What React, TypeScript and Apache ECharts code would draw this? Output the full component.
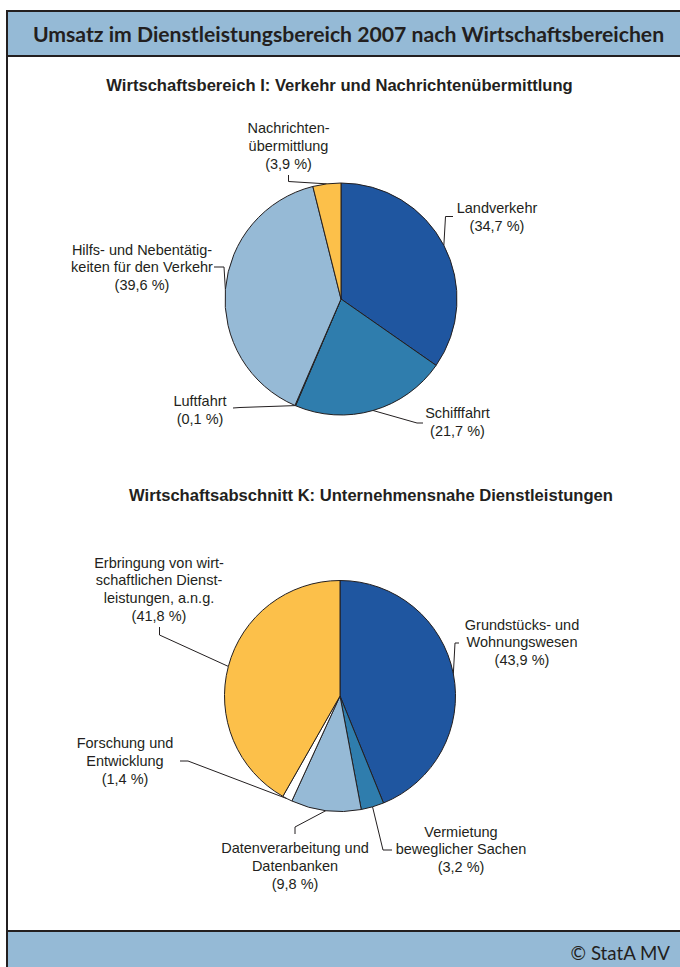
import React, { useEffect, useRef } from "react";
import * as echarts from "echarts";

const titleText = "Umsatz im Dienstleistungsbereich 2007 nach Wirtschaftsbereichen";
const subtitle1 = "Wirtschaftsbereich I: Verkehr und Nachrichtenübermittlung";
const subtitle2 = "Wirtschaftsabschnitt K: Unternehmensnahe Dienstleistungen";
const sourceText = "© StatA MV";

const categories1 = [
  "Landverkehr",
  "Schifffahrt",
  "Luftfahrt",
  "Hilfs- und Nebentätig-\nkeiten für den Verkehr",
  "Nachrichten-\nübermittlung",
];
const values1 = [34.7, 21.7, 0.1, 39.6, 3.9];
const colors1 = ["#1f56a0", "#2f7dad", "#2f7dad", "#96bad6", "#fcc04a"];

const categories2 = [
  "Grundstücks- und\nWohnungswesen",
  "Vermietung\nbeweglicher Sachen",
  "Datenverarbeitung und\nDatenbanken",
  "Forschung und\nEntwicklung",
  "Erbringung von wirt-\nschaftlichen Dienst-\nleistungen, a.n.g.",
];
const values2 = [43.9, 3.2, 9.8, 1.4, 41.8];
const colors2 = ["#1f56a0", "#2f7dad", "#96bad6", "#ffffff", "#fcc04a"];

// layout (not data): pie geometry and label placement
const PIES = [
  { cx: 341, cy: 299, r: 116 },
  { cx: 340, cy: 696, r: 115.5 },
];
const LABELS = [
  [
    { x: 497, top: 199.5, guide: [[445.5, 216.5], [453, 216.5]] },
    { x: 457.5, top: 404.5, guide: [[417, 423], [423, 423]] },
    { x: 200, top: 392.5, guide: [[240, 407.5], [233, 408]] },
    { x: 142, top: 241, guide: [[224, 267], [214, 267]] },
    { x: 288.5, top: 119.5, guide: [[288.5, 181.5], [288.5, 175]] },
  ],
  [
    { x: 522, top: 616, guide: [[455, 643], [459, 643]] },
    { x: 461, top: 823, guide: [[383, 850], [392, 850]] },
    { x: 295, top: 839.5, guide: [[295, 827], [295, 834]] },
    { x: 125, top: 734.5, guide: [[188, 761], [180, 761]] },
    { x: 159, top: 554, guide: [[159.5, 635], [159.5, 627]] },
  ],
];

function anchors(values: number[], pie: { cx: number; cy: number; r: number }) {
  const total = values.reduce((a, b) => a + b, 0);
  let cum = 0;
  return values.map((v) => {
    const mid = ((cum + v / 2) / total) * Math.PI * 2;
    cum += v;
    return [pie.cx + pie.r * Math.sin(mid), pie.cy - pie.r * Math.cos(mid)];
  });
}

const fmt = (v: number) => v.toFixed(1).replace(".", ",");

export default function App() {
  const ref = useRef<HTMLDivElement>(null);
  useEffect(() => {
    if (!ref.current) return;
    const chart = echarts.init(ref.current, undefined, { renderer: "svg" });
    const anchorSets = [anchors(values1, PIES[0]), anchors(values2, PIES[1])];
    const labelFont = {
      fontFamily: "Liberation Sans",
      fontSize: 14.5,
      lineHeight: 17.6,
      color: "#231f20",
    };
    const makeSeries = (idx: number, cats: string[], vals: number[], cols: string[]) => ({
      type: "pie",
      silent: true,
      center: [PIES[idx].cx, PIES[idx].cy],
      radius: PIES[idx].r,
      startAngle: 90,
      clockwise: true,
      avoidLabelOverlap: false,
      minShowLabelAngle: 0,
      itemStyle: { borderColor: "#231f20", borderWidth: 1 },
      label: {
        show: true,
        position: "outside",
        align: "center",
        formatter: (p: any) => `${p.name}\n(${fmt(p.value)} %)`,
        ...labelFont,
      },
      labelLine: { show: true, lineStyle: { color: "#231f20", width: 1 } },
      labelLayout: (params: any) => {
        const L = LABELS[idx][params.dataIndex];
        return {
          x: L.x,
          y: L.top,
          align: "center",
          verticalAlign: "top",
          labelLinePoints: [anchorSets[idx][params.dataIndex], L.guide[0], L.guide[1]],
        };
      },
      data: cats.map((c, i) => ({ name: c, value: vals[i], itemStyle: { color: cols[i] } })),
    });

    const subStyle = {
      align: "center",
      verticalAlign: "middle",
      fontFamily: "Liberation Sans",
      fontWeight: "bold",
      fontSize: 16.6,
      fill: "#231f20",
    };

    chart.setOption({
      animation: false,
      backgroundColor: "#ffffff",
      graphic: [
        { type: "rect", shape: { x: 7, y: 11, width: 673, height: 45 }, style: { fill: "#95bad6" } },
        { type: "rect", shape: { x: 7, y: 931, width: 673, height: 36 }, style: { fill: "#95bad6" } },
        { type: "line", shape: { x1: 6, y1: 11, x2: 680, y2: 11 }, style: { stroke: "#231f20", lineWidth: 2 } },
        { type: "line", shape: { x1: 7, y1: 56, x2: 680, y2: 56 }, style: { stroke: "#231f20", lineWidth: 2 } },
        { type: "line", shape: { x1: 7, y1: 931, x2: 680, y2: 931 }, style: { stroke: "#231f20", lineWidth: 2 } },
        { type: "line", shape: { x1: 7, y1: 10, x2: 7, y2: 967 }, style: { stroke: "#231f20", lineWidth: 2 } },
        {
          type: "text",
          x: 348.5,
          y: 34,
          style: {
            text: titleText,
            align: "center",
            verticalAlign: "middle",
            fontFamily: "Lato",
            fontWeight: "bold",
            fontSize: 21.2,
            fill: "#231f20",
          },
        },
        { type: "text", x: 339.5, y: 85, style: { text: subtitle1, ...subStyle } },
        { type: "text", x: 371, y: 495, style: { text: subtitle2, ...subStyle } },
        {
          type: "text",
          x: 670,
          y: 953,
          style: {
            text: sourceText,
            align: "right",
            verticalAlign: "middle",
            fontFamily: "Lato",
            fontSize: 18.7,
            fill: "#231f20",
          },
        },
      ],
      series: [
        makeSeries(0, categories1, values1, colors1),
        makeSeries(1, categories2, values2, colors2),
      ],
    });
    return () => chart.dispose();
  }, []);
  return (
    <div
      ref={ref}
      style={{ position: "absolute", left: 0, top: 0, width: 680, height: 967, background: "#fff" }}
    />
  );
}
